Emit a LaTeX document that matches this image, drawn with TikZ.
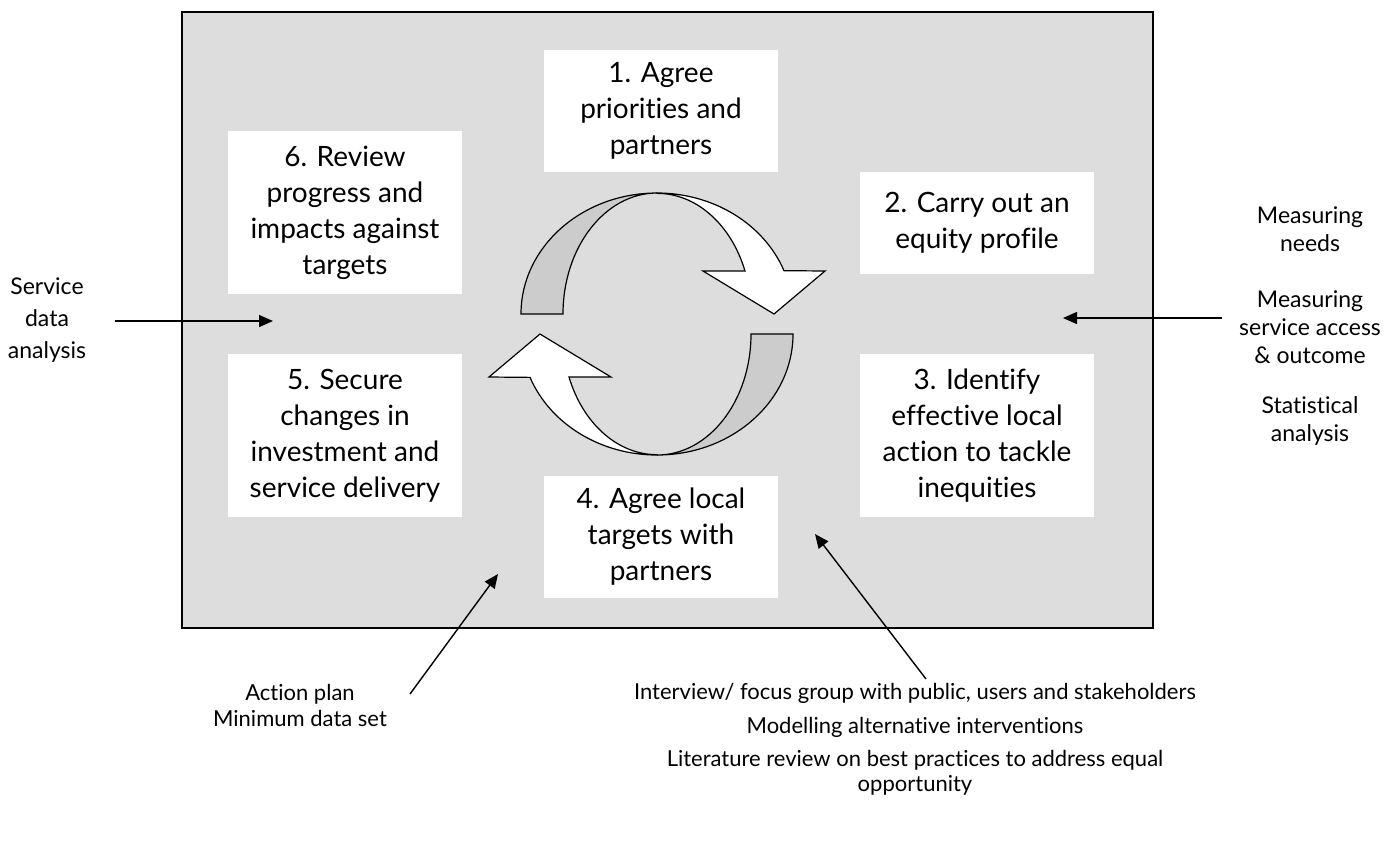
\documentclass[tikz,border=0pt]{standalone}
\usepackage{fontspec}
\setmainfont{Lato}[Ligatures={NoCommon,NoContextual}]
\usetikzlibrary{arrows.meta}
\definecolor{panelgrey}{RGB}{221,221,221}
\definecolor{ribbongrey}{RGB}{204,204,204}

\begin{document}
\begin{tikzpicture}[
    x=0.5pt, y=-0.5pt,
    stage/.style={rectangle, fill=white, minimum width=117pt, inner sep=0pt, align=center, font=\fontsize{14}{18}\selectfont},
    note/.style={align=center, font=\fontsize{11.5}{14}\selectfont},
    source/.style={align=center, font=\fontsize{11}{13}\selectfont},
    feed/.style={line width=0.7pt, -{Triangle[length=7pt,width=6pt]}},
    ribbon/.style={draw=black, line width=0.6pt, line join=miter}
]
    \useasboundingbox (0,0) rectangle (1398,843);

    % grey panel
    \filldraw[fill=panelgrey, draw=black, line width=0.9pt] (182,12) rectangle (1153,628);

    % the six stages
    \node[stage, minimum height=61pt] (agree) at (661,111) {1. Agree\\priorities and\\partners};
    \node[stage, minimum height=51pt] (profile) at (977,223) {2. Carry out an\\equity profile};
    \node[stage, minimum height=81.5pt] (identify) at (977,435.5) {3. Identify\\effective local\\action to tackle\\inequities};
    \node[stage, minimum height=61pt] (targets) at (661,537) {4. Agree local\\targets with\\partners};
    \node[stage, minimum height=81.5pt] (secure) at (345,435.5) {5. Secure\\changes in\\investment and\\service delivery};
    \node[stage, minimum height=81.5pt] (review) at (345,212.5) {6. Review\\progress and\\impacts against\\targets};

    % cycle arrows
    \foreach \turn in {0,180} {
        \begin{scope}[shift={(657,324)}, rotate=\turn]
            \filldraw[ribbon, fill=ribbongrey] (-136,-10)
                arc[start angle=180, end angle=270, x radius=136, y radius=121]
                arc[start angle=270, end angle=180, x radius=94, y radius=121] -- cycle;
            \filldraw[ribbon, fill=white] (0,-131)
                arc[start angle=-90, end angle=-21, x radius=136, y radius=121]
                -- (168,-53) -- (117,-10) -- (46,-53) -- (88,-53)
                arc[start angle=-21, end angle=-90, x radius=94, y radius=121] -- cycle;
        \end{scope}
    }

    % inputs around the panel
    \node[note, font=\fontsize{11.5}{16}\selectfont] (servicedata) at (47,320) {Service\\data\\analysis};
    \node[note] (needs) at (1310,229) {Measuring\\needs};
    \node[note] (access) at (1310,327) {Measuring\\service access\\\& outcome};
    \node[note] (stats) at (1310,421) {Statistical\\analysis};
    \node[source] (actionplan) at (300,705) {Action plan\\Minimum data set};
    \node[source] (interview) at (915,693) {Interview/ focus group with public, users and stakeholders};
    \node[source] (modelling) at (915,727) {Modelling alternative interventions};
    \node[source, font=\fontsize{11}{12.5}\selectfont] (literature) at (915,773) {Literature review on best practices to address equal\\opportunity};

    \coordinate (serviceTail) at (115,321);
    \coordinate (serviceTip) at (273,321);
    \coordinate (measureTail) at (1222,318);
    \coordinate (measureTip) at (1063,318);
    \coordinate (planTail) at (410,694);
    \coordinate (planTip) at (498,574);
    \coordinate (consultTail) at (926,679);
    \coordinate (consultTip) at (815,534);

    \draw[feed] (serviceTail) -- (serviceTip);
    \draw[feed] (measureTail) -- (measureTip);
    \draw[feed] (planTail) -- (planTip);
    \draw[feed] (consultTail) -- (consultTip);

\end{tikzpicture}
\end{document}
